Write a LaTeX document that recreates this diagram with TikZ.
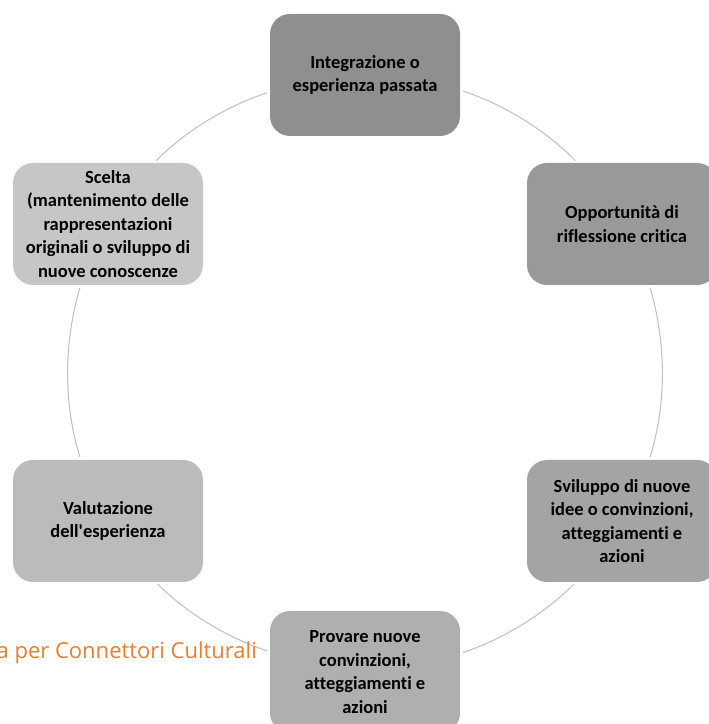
\documentclass[tikz,border=0pt]{standalone}
\usepackage{fontspec}
\setmainfont[Ligatures={TeXOff,NoCommon}]{Carlito}
\newfontfamily\notefont{Open Sans}
\definecolor{shadeA}{HTML}{8F8F8F}
\definecolor{shadeB}{HTML}{999999}
\definecolor{shadeC}{HTML}{A4A4A4}
\definecolor{shadeD}{HTML}{AFAFAF}
\definecolor{shadeE}{HTML}{BBBBBB}
\definecolor{shadeF}{HTML}{C6C6C6}
\definecolor{arcgray}{HTML}{BFBFBF}
\definecolor{noteorange}{HTML}{ED7D31}
\tikzset{
  stage/.style={rectangle, rounded corners=20pt, minimum width=190pt,
    minimum height=122pt, inner sep=0pt, align=center,
    font=\bfseries\fontsize{18.5}{23.5}\selectfont},
  cycarc/.style={draw=arcgray, line width=1pt, looseness=0.87,
    shorten <=3pt, shorten >=3pt}
}
\begin{document}
\begin{tikzpicture}[x=1pt,y=1pt]
  \useasboundingbox (0,0) rectangle (709,724);

  % Drawing the six stages of the cycle
  \node[stage, fill=shadeA] (integr) at (365,649) {Integrazione o\\esperienza passata};
  \node[stage, fill=shadeB] (riflex) at (622,500) {Opportunità di\\riflessione critica};
  \node[stage, fill=shadeC] (svil) at (622,203) {Sviluppo di nuove\\idee o convinzioni,\\atteggiamenti e\\azioni};
  \node[stage, fill=shadeD] (prova) at (365,52) {Provare nuove\\convinzioni,\\atteggiamenti e\\azioni};
  \node[stage, fill=shadeE] (valut) at (108,203) {Valutazione\\dell'esperienza};
  \node[stage, fill=shadeF] (scelta) at (108,500) {Scelta\\(mantenimento delle\\rappresentazioni\\originali o sviluppo di\\nuove conoscenze};

  % Drawing the arcs between stages
  \draw[cycarc] (integr.-9.6) to[out=-18.7, in=134.7] (riflex.126.6);
  \draw[cycarc] (riflex.-66) to[out=-73.4, in=72.8] (svil.66.1);
  \draw[cycarc] (svil.-127.7) to[out=-135.3, in=18.7] (prova.11.3);
  \draw[cycarc] (prova.168.7) to[out=161.3, in=-44.7] (valut.-52.3);
  \draw[cycarc] (valut.114.7) to[out=107.2, in=-106.6] (scelta.-114);
  \draw[cycarc] (scelta.53) to[out=45.3, in=-161.3] (integr.-170.4);

  % Caption text cut at the left edge
  \node[anchor=base east, inner sep=0pt, text=noteorange,
    font=\notefont\fontsize{22}{26}\selectfont] (note) at (257,65) {a per Connettori Culturali};
\end{tikzpicture}
\end{document}
